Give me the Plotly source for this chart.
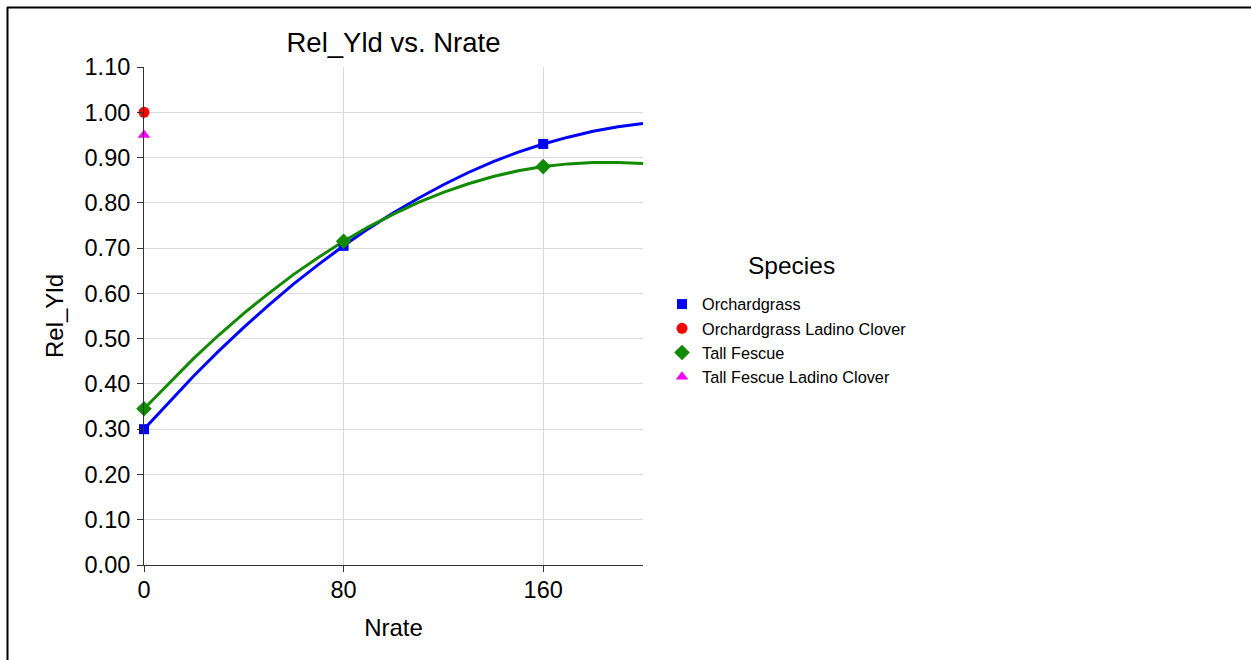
import plotly.graph_objects as go

# Observed relative yield at each N rate
nrate_obs = [0, 80, 160]
orchard_obs = [0.300, 0.705, 0.930]
fescue_obs = [0.345, 0.715, 0.880]

# Ladino clover mixtures (no N applied)
og_clover_x = [0]
og_clover_y = [1.00]
tf_clover_x = [0]
tf_clover_y = [0.95]

# Fitted response curves
nrate_fit = [0, 10, 20, 30, 40, 50, 60, 70, 80, 90, 100,
             110, 120, 130, 140, 150, 160, 170, 180, 190, 200]
orchard_fit = [0.300, 0.360, 0.418, 0.473, 0.525, 0.574, 0.621, 0.664, 0.705, 0.743, 0.778,
               0.810, 0.840, 0.867, 0.891, 0.912, 0.930, 0.945, 0.958, 0.968, 0.975]
fescue_fit = [0.345, 0.402, 0.457, 0.508, 0.556, 0.600, 0.642, 0.680, 0.715, 0.747, 0.775,
              0.801, 0.823, 0.842, 0.858, 0.871, 0.880, 0.886, 0.889, 0.889, 0.887]

BLUE = "#0000ff"
RED = "#ff0000"
GREEN = "#128a00"
MAGENTA = "#ff00ff"
FONT = "Liberation Sans, Arial, sans-serif"

fig = go.Figure()

fig.add_trace(go.Scatter(x=nrate_fit, y=orchard_fit, mode="lines",
                         line=dict(color=BLUE, width=3), showlegend=False,
                         hoverinfo="skip", cliponaxis=False))
fig.add_trace(go.Scatter(x=nrate_fit, y=fescue_fit, mode="lines",
                         line=dict(color=GREEN, width=3), showlegend=False,
                         hoverinfo="skip", cliponaxis=False))

fig.add_trace(go.Scatter(x=nrate_obs, y=orchard_obs, mode="markers", name="Orchardgrass",
                         cliponaxis=False,
                         marker=dict(symbol="square", size=10, color=BLUE)))
fig.add_trace(go.Scatter(x=og_clover_x, y=og_clover_y, mode="markers",
                         name="Orchardgrass Ladino Clover", cliponaxis=False,
                         marker=dict(symbol="circle", size=11, color=RED)))
fig.add_trace(go.Scatter(x=nrate_obs, y=fescue_obs, mode="markers", name="Tall Fescue",
                         cliponaxis=False,
                         marker=dict(symbol="diamond", size=12, color=GREEN)))
fig.add_trace(go.Scatter(x=tf_clover_x, y=tf_clover_y, mode="markers",
                         name="Tall Fescue Ladino Clover", cliponaxis=False,
                         marker=dict(symbol="triangle-up", size=11, color=MAGENTA)))

# Frame lines along the top and left of the page
px = lambda p: (p - 144) / 499.0
py = lambda p: (565 - p) / 498.0
fig.add_shape(type="line", xref="paper", yref="paper",
              x0=px(7), x1=px(1300), y0=py(7.5), y1=py(7.5),
              line=dict(color="black", width=2))
fig.add_shape(type="line", xref="paper", yref="paper",
              x0=px(7.5), x1=px(7.5), y0=py(7), y1=py(720),
              line=dict(color="black", width=2))

# Legend heading
fig.add_annotation(text="Species", xref="paper", yref="paper",
                   x=px(791), y=py(265), xanchor="center", yanchor="middle",
                   showarrow=False, font=dict(size=24.5, family=FONT))

fig.update_layout(
    width=1251, height=660,
    margin=dict(l=144, r=608, t=67, b=95),
    paper_bgcolor="white", plot_bgcolor="white",
    font=dict(family=FONT, color="black"),
    title=dict(text="Rel_Yld vs. Nrate", x=0.5, xref="paper", xanchor="center",
               y=1 - 42 / 660, yref="container", yanchor="middle",
               font=dict(size=27.5, family=FONT)),
    xaxis=dict(range=[0, 200], tickvals=[0, 80, 160], ticktext=["0", "80", "160"],
               showgrid=True, gridcolor="#d9d9d9", gridwidth=1,
               showline=True, linecolor="#333333", linewidth=1,
               ticks="outside", ticklen=6, tickcolor="#333333",
               ticklabelstandoff=-2,
               tickfont=dict(size=23.5), zeroline=False,
               title=dict(text="Nrate", font=dict(size=24), standoff=16)),
    yaxis=dict(range=[0, 1.1], dtick=0.1, tick0=0, tickformat=".2f",
               showgrid=True, gridcolor="#d9d9d9", gridwidth=1,
               showline=True, linecolor="#333333", linewidth=1,
               ticks="outside", ticklen=6, tickcolor="#333333",
               ticklabelstandoff=2,
               tickfont=dict(size=23.5), zeroline=False,
               title=dict(text="Rel_Yld", font=dict(size=24), standoff=14)),
    legend=dict(x=px(662), xanchor="left", y=py(287), yanchor="top",
                font=dict(size=16.3), tracegroupgap=0, bgcolor="rgba(0,0,0,0)"),
    showlegend=True,
)

fig.write_html("out.html")
